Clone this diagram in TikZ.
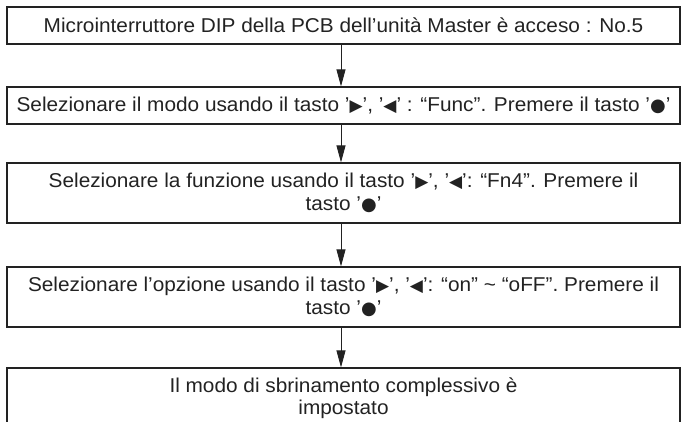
\documentclass[tikz,border=0pt]{standalone}
\usepackage{fontspec}
\setmainfont{Liberation Sans}[FakeStretch=1.04]
\newfontfamily\symf{DejaVu Sans}
\usetikzlibrary{arrows.meta}
\newcommand{\rtri}{{\symf\fontsize{17}{17}\selectfont ▶}}
\newcommand{\ltri}{{\symf\fontsize{17}{17}\selectfont ◀}}
\newcommand{\dotb}{{\symf\fontsize{18}{18}\selectfont ●}}
\definecolor{ink}{HTML}{222222}
\begin{document}
\begin{tikzpicture}[x=1pt,y=-1pt,
  stepbox/.style={draw=ink, line width=1.2pt, minimum width=673pt, inner sep=0pt,
    align=center, text=ink, font=\fontsize{20}{22.5}\selectfont},
  flow/.style={draw=ink, line width=0.9pt, -{Triangle[length=17pt,width=9pt]}}]
\useasboundingbox (0,0) rectangle (681,421);
\node[stepbox, minimum height=37pt] (b1) at (343.5,25.5) {Microinterruttore DIP della PCB dell’unità Master è acceso : No.5};
\node[stepbox, minimum height=37pt] (b2) at (343.5,105.5) {Selezionare il modo usando il tasto ’\rtri’, ’\ltri’ : “Func”. Premere il tasto ’\dotb’};
\node[stepbox, minimum height=60pt] (b3) at (343.5,193) {Selezionare la funzione usando il tasto ’\rtri’, ’\ltri’: “Fn4”. Premere il\\tasto ’\dotb’};
\node[stepbox, minimum height=60pt] (b4) at (343.5,297) {Selezionare l’opzione usando il tasto ’\rtri’, ’\ltri’: “on” \textasciitilde{} “oFF”. Premere il\\tasto ’\dotb’};
\node[stepbox, minimum height=60pt] (b5) at (343.5,398) {Il modo di sbrinamento complessivo è\\impostato};
\draw[flow] ([xshift=-2.5pt]b1.south) -- ([xshift=-2.5pt]b2.north);
\draw[flow] ([xshift=-2.5pt]b2.south) -- ([xshift=-2.5pt]b3.north);
\draw[flow] ([xshift=-2.5pt]b3.south) -- ([xshift=-2.5pt]b4.north);
\draw[flow] ([xshift=-2.5pt]b4.south) -- ([xshift=-2.5pt]b5.north);
\end{tikzpicture}
\end{document}
